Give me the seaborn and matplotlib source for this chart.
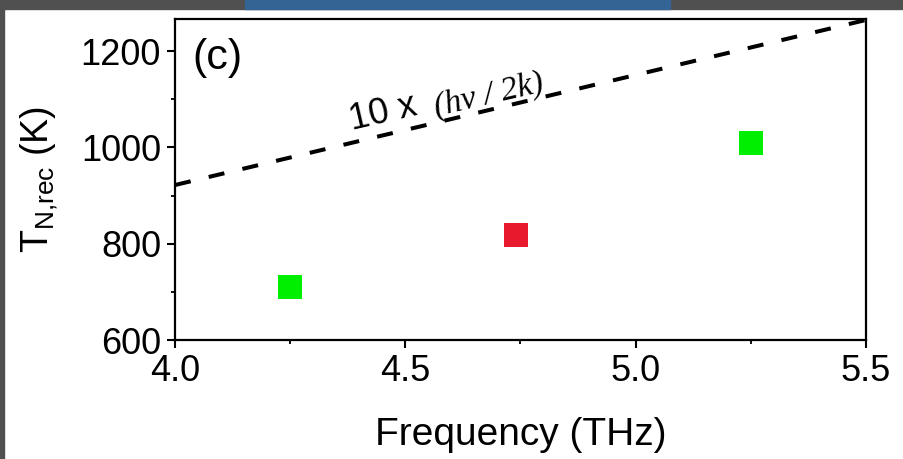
import matplotlib
matplotlib.use("Agg")
import matplotlib.pyplot as plt
import seaborn as sns
import pandas as pd
from matplotlib.patches import Rectangle
from matplotlib.ticker import MultipleLocator

# ---- data ----
freq_thz = [4.25, 4.74, 5.25]
t_rec_k = [710, 818, 1010]
point_group = ["green", "red", "green"]
line_freq = [4.0, 5.5]
line_temp = [922, 1265]
x_ticks = [4.0, 4.5, 5.0, 5.5]
y_ticks = [600, 800, 1000, 1200]

sns.set_style("ticks")
plt.rcParams["font.family"] = ["Liberation Sans", "DejaVu Sans"]
plt.rcParams["mathtext.fontset"] = "custom"
plt.rcParams["mathtext.rm"] = "Liberation Sans"
plt.rcParams["mathtext.it"] = "Liberation Sans:italic"
for k in ["text.color", "axes.labelcolor", "xtick.color", "ytick.color",
          "xtick.labelcolor", "ytick.labelcolor"]:
    plt.rcParams[k] = "black"

fig = plt.figure(figsize=(9.04, 4.59), dpi=100)
fig.patch.set_facecolor("white")
# decorative frame pieces of the screenshot
fig.patches.append(Rectangle((0, 0), 4 / 904, 1, transform=fig.transFigure,
                             color="#505050", zorder=0))
fig.patches.append(Rectangle((0, 1 - 9 / 459), 1, 9 / 459, transform=fig.transFigure,
                             color="#505050", zorder=0))
fig.patches.append(Rectangle((245 / 904, 1 - 9 / 459), 425 / 904, 9 / 459,
                             transform=fig.transFigure, color="#346494", zorder=1))

ax = fig.add_axes([175 / 904, 1 - 340 / 459, 691 / 904, 321 / 459])

df_pts = pd.DataFrame({"f": freq_thz, "t": t_rec_k, "g": point_group})
df_line = pd.DataFrame({"f": line_freq, "t": line_temp})

sns.lineplot(data=df_line, x="f", y="t", ax=ax, color="black", lw=2.9,
             dashes=False, zorder=3)
ax.lines[-1].set_dashes((4.0, 4.6))
sns.scatterplot(data=df_pts, x="f", y="t", hue="g",
                palette={"green": "#00ee00", "red": "#e8192c"},
                marker="s", s=290, linewidth=0, ax=ax, legend=False, zorder=4)

ax.set_xlim(4.0, 5.5)
ax.set_ylim(600, 1267)
ax.set_xticks(x_ticks)
ax.set_yticks(y_ticks)
ax.set_xticklabels([f"{v:.1f}" for v in x_ticks])
ax.set_yticklabels([str(v) for v in y_ticks])
ax.xaxis.set_minor_locator(MultipleLocator(0.25))
ax.yaxis.set_minor_locator(MultipleLocator(100))
ax.tick_params(which="major", direction="out", length=6, width=1.5,
               labelsize=26, pad=4, colors="black")
ax.tick_params(which="minor", direction="out", length=3, width=1.3)
for sp in ax.spines.values():
    sp.set_visible(True)
    sp.set_linewidth(1.6)
    sp.set_color("black")

ax.set_xlabel("Frequency (THz)", fontsize=28, labelpad=20)
ax.set_ylabel(r"T$_{\mathrm{N{,}rec}}$ (K)", fontsize=27, labelpad=15)

ax.text(0.025, 0.94, "(c)", transform=ax.transAxes, fontsize=31,
        ha="left", va="top")
ax.text(4.385, 1037, "10 x", fontsize=26, rotation=13, rotation_mode="anchor",
        ha="left", va="baseline", zorder=5)
ax.text(4.568, 1066, "(hν / 2k)", fontsize=24, rotation=13, rotation_mode="anchor",
        ha="left", va="baseline", family=["Liberation Serif", "DejaVu Serif"],
        style="italic", zorder=5)

fig.savefig("out.png", dpi=100, facecolor="white")
